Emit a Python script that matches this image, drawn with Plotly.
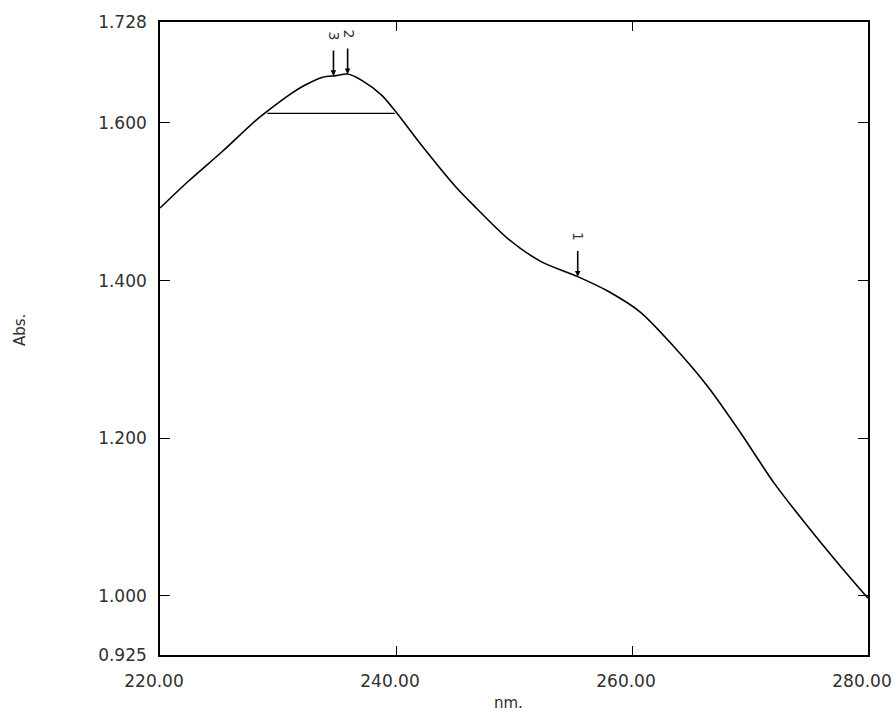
import numpy as np
import plotly.graph_objects as go

# Spectrum
wavelength_nm = [220.0, 222.4, 225.3, 228.1, 229.1, 230.9, 232.3, 233.8, 234.9, 235.9,
                 237.1, 238.8, 240.2, 242.2, 245.0, 246.6, 249.5, 252.3, 255.4, 257.9,
                 260.7, 263.5, 266.4, 269.2, 272.0, 274.9, 277.7, 280.0]
absorbance = [1.492, 1.526, 1.564, 1.603, 1.615, 1.635, 1.648, 1.658, 1.660, 1.662,
              1.654, 1.635, 1.610, 1.571, 1.520, 1.495, 1.453, 1.424, 1.405, 1.387,
              1.360, 1.317, 1.266, 1.207, 1.144, 1.088, 1.037, 0.997]

# Peak picks
peak_labels = ["3", "2", "1"]
peak_nm = [234.7, 235.9, 255.4]

# Baseline segment
baseline_nm = [229.1, 239.9]
baseline_abs = 1.612

x_ticks = [220, 240, 260, 280]
x_tick_text = ["220.00", "240.00", "260.00", "280.00"]
y_ticks = [0.925, 1.0, 1.2, 1.4, 1.6, 1.728]
y_tick_text = ["0.925", "1.000", "1.200", "1.400", "1.600", "1.728"]

FONT = "DejaVu Sans"
TXT = "#303030"

fig = go.Figure()
fig.add_trace(go.Scatter(x=wavelength_nm, y=absorbance, mode="lines",
                         line=dict(color="black", width=1.6, shape="spline", smoothing=0.8),
                         hoverinfo="skip", showlegend=False))
fig.add_trace(go.Scatter(x=baseline_nm, y=[baseline_abs, baseline_abs], mode="lines",
                         line=dict(color="black", width=1.3), showlegend=False, hoverinfo="skip"))

annotations = []
for lab, nm in zip(peak_labels, peak_nm):
    yv = float(np.interp(nm, wavelength_nm, absorbance))
    annotations.append(dict(x=nm, y=yv, xref="x", yref="y", text="", showarrow=True,
                            ax=0, ay=-27, arrowhead=2, arrowsize=0.7, arrowwidth=1.6,
                            arrowcolor="black"))
    annotations.append(dict(x=nm, y=yv, xref="x", yref="y", text=lab, showarrow=False,
                            textangle=90, yshift=40, xshift=1,
                            font=dict(family=FONT, size=14, color=TXT)))

annotations.append(dict(x=-0.198, y=0.513, xref="paper", yref="paper", text="Abs.",
                        showarrow=False, textangle=-90, xanchor="center", yanchor="middle",
                        font=dict(family=FONT, size=15, color=TXT)))
annotations.append(dict(x=0.492, y=-0.076, xref="paper", yref="paper", text="nm.",
                        showarrow=False, xanchor="center", yanchor="middle",
                        font=dict(family=FONT, size=15, color=TXT)))

fig.update_layout(
    width=896, height=712,
    margin=dict(l=160, r=28, t=22, b=57, autoexpand=False),
    paper_bgcolor="white", plot_bgcolor="white",
    annotations=annotations,
    font=dict(family=FONT, size=17, color=TXT),
)
fig.update_xaxes(range=[220, 280], tickvals=x_ticks, ticktext=x_tick_text,
                 ticks="inside", ticklen=9, tickcolor="black", tickwidth=1.3,
                 showline=True, linecolor="black", linewidth=1.6, mirror="ticks",
                 showgrid=False, zeroline=False, ticklabelshift=-6, ticklabelstandoff=10,
                 automargin=False,
                 tickfont=dict(family=FONT, size=17, color=TXT))
fig.update_yaxes(range=[0.925, 1.728], tickvals=y_ticks, ticktext=y_tick_text,
                 ticks="inside", ticklen=10, tickcolor="black", tickwidth=1.3,
                 showline=True, linecolor="black", linewidth=1.6, mirror="ticks",
                 showgrid=False, zeroline=False, ticklabelstandoff=8,
                 automargin=False,
                 tickfont=dict(family=FONT, size=17, color=TXT))

fig.write_html("out.html")
